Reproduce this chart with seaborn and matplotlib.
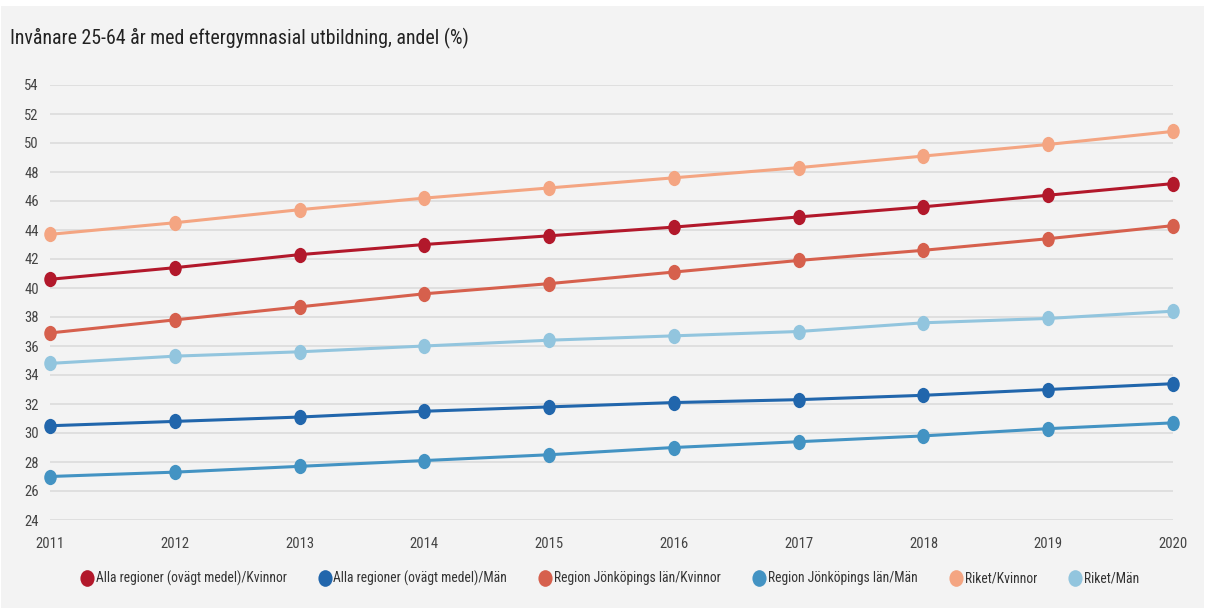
import matplotlib
matplotlib.use("Agg")
import matplotlib.pyplot as plt
from matplotlib import font_manager
from matplotlib.lines import Line2D
from matplotlib.patches import Rectangle
from matplotlib.path import Path
from matplotlib.transforms import Affine2D
import seaborn as sns
import pandas as pd

years = [2011, 2012, 2013, 2014, 2015, 2016, 2017, 2018, 2019, 2020]

series_names = [
    "Alla regioner (ovägt medel)/Kvinnor",
    "Alla regioner (ovägt medel)/Män",
    "Region Jönköpings län/Kvinnor",
    "Region Jönköpings län/Män",
    "Riket/Kvinnor",
    "Riket/Män",
]

alla_kvinnor = [40.6, 41.4, 42.3, 43.0, 43.6, 44.2, 44.9, 45.6, 46.4, 47.2]
alla_man = [30.5, 30.8, 31.1, 31.5, 31.8, 32.1, 32.3, 32.6, 33.0, 33.4]
region_kvinnor = [36.9, 37.8, 38.7, 39.6, 40.3, 41.1, 41.9, 42.6, 43.4, 44.3]
region_man = [27.0, 27.3, 27.7, 28.1, 28.5, 29.0, 29.4, 29.8, 30.3, 30.7]
riket_kvinnor = [43.7, 44.5, 45.4, 46.2, 46.9, 47.6, 48.3, 49.1, 49.9, 50.8]
riket_man = [34.8, 35.3, 35.6, 36.0, 36.4, 36.7, 37.0, 37.6, 37.9, 38.4]

colors = ["#b2182b", "#2166ac", "#d6604d", "#4393c3", "#f4a582", "#92c5de"]
y_ticks = list(range(24, 55, 2))

title = "Invånare 25-64 år med eftergymnasial utbildning, andel (%)"

values = [alla_kvinnor, alla_man, region_kvinnor, region_man, riket_kvinnor, riket_man]
rows = []
for name, vals in zip(series_names, values):
    for yr, v in zip(years, vals):
        rows.append({"year": yr, "value": v, "series": name})
df = pd.DataFrame(rows)

sns.set_theme(style="white")

# Prefer a condensed face if one is installed
condensed = None
for f in font_manager.fontManager.ttflist:
    if "roboto condensed" in f.name.lower():
        condensed = f.name
        break
if condensed is None:
    for f in font_manager.fontManager.ttflist:
        n = f.name.lower()
        if "narrow" in n or "condensed" in n:
            condensed = f.name
            break

if condensed:
    plt.rcParams["font.family"] = [condensed, "Roboto", "DejaVu Sans"]
    scale = 1.0
else:
    plt.rcParams["font.family"] = ["Roboto", "DejaVu Sans"]
    scale = 0.82
plt.rcParams["font.stretch"] = "condensed"

bg = "#f3f3f3"
W, H = 1207, 608
fig = plt.figure(figsize=(W / 100, H / 100), dpi=100, facecolor="white")
# grey panel inside a thin white frame
fig.patches.append(Rectangle((1 / W, 0), (1204 - 1) / W, (H - 6) / H,
                             transform=fig.transFigure, facecolor=bg,
                             edgecolor="none", zorder=-10))

ax = fig.add_axes([50 / W, 1 - 520 / H, (1173 - 50) / W, (520 - 85) / H])
ax.set_facecolor("none")

# slightly tall elliptical marker
circ = Path.unit_circle()
ellipse = Path(Affine2D().scale(0.82, 1.0).transform(circ.vertices), circ.codes)

palette = dict(zip(series_names, colors))
sns.lineplot(
    data=df, x="year", y="value", hue="series", hue_order=series_names,
    palette=palette, marker=ellipse, markersize=11, markeredgewidth=0,
    linewidth=2.2, ax=ax, legend=False, zorder=3,
)
for ln in ax.lines:
    ln.set_clip_on(False)

ax.set_xlim(2011, 2020)
ax.set_ylim(24, 54)
ax.set_yticks(y_ticks)
ax.set_xticks(years)
ax.set_xticklabels([str(y) for y in years])
ax.yaxis.grid(True, color="#dcdcdc", linewidth=1.2, zorder=0)
ax.xaxis.grid(False)
for s in ax.spines.values():
    s.set_visible(False)
tick_fs = 10.5 * scale
ax.tick_params(axis="y", length=0, pad=8, labelsize=tick_fs, labelcolor="#444444")
ax.tick_params(axis="x", length=0, pad=12, labelsize=tick_fs, labelcolor="#444444")
ax.set_xlabel("")
ax.set_ylabel("")

fig.text(10 / W, 1 - 38 / H, title, fontsize=14.3 * scale,
         color="#222222", ha="left", va="center")

leg_marker = Path(Affine2D().scale(0.85, 1.0).transform(circ.vertices), circ.codes)
handles = [
    Line2D([0], [0], marker=leg_marker, linestyle="", markersize=12,
           markerfacecolor=c, markeredgewidth=0, label=n)
    for n, c in zip(series_names, colors)
]
leg = fig.legend(
    handles=handles, loc="center", bbox_to_anchor=(0.505, 1 - 578 / H), ncol=6,
    frameon=False, fontsize=9.8 * scale, handletextpad=0.15,
    columnspacing=2.3, handlelength=1.0,
)
for t in leg.get_texts():
    t.set_color("#333333")

fig.savefig("out.png", dpi=100, facecolor="white")
